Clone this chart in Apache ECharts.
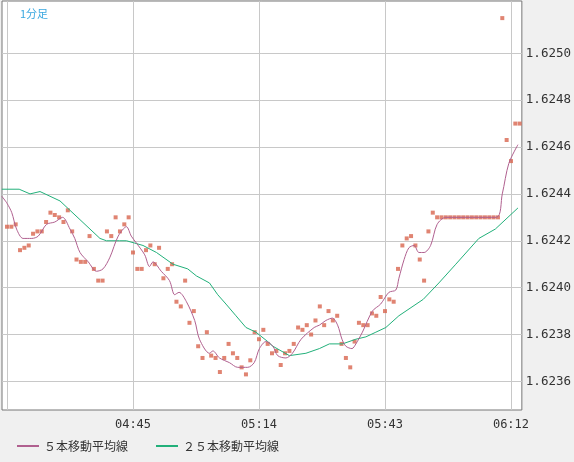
<!DOCTYPE html>
<html>
<head>
<meta charset="utf-8">
<script src="https://cdn.jsdelivr.net/npm/echarts@6/dist/echarts.min.js"></script>
<style>
html,body{margin:0;padding:0;background:#f0f0f0;}
#main{width:574px;height:462px;}
</style>
</head>
<body>
<div id="main"></div>
<script>
// minutes from 04:16, one price per minute
var prices = [
 1.62426,1.62426,1.62427,1.62416,1.62417,1.62418,1.62423,1.62424,1.62424,1.62428,
 1.62432,1.62431,1.62430,1.62428,1.62433,1.62424,1.62412,1.62411,1.62411,1.62422,
 1.62408,1.62403,1.62403,1.62424,1.62422,1.62430,1.62424,1.62427,1.62430,1.62415,
 1.62408,1.62408,1.62416,1.62418,1.62410,1.62417,1.62404,1.62408,1.62410,1.62394,
 1.62392,1.62403,1.62385,1.62390,1.62375,1.62370,1.62381,1.62371,1.62370,1.62364,
 1.62370,1.62376,1.62372,1.62370,1.62366,1.62363,1.62369,1.62381,1.62378,1.62382,
 1.62376,1.62372,1.62373,1.62367,1.62372,1.62373,1.62376,1.62383,1.62382,1.62384,
 1.62380,1.62386,1.62392,1.62384,1.62390,1.62386,1.62388,1.62376,1.62370,1.62366,
 1.62377,1.62385,1.62384,1.62384,1.62389,1.62388,1.62396,1.62390,1.62395,1.62394,
 1.62408,1.62418,1.62421,1.62422,1.62418,1.62412,1.62403,1.62424,1.62432,1.62430,
 1.62430,1.62430,1.62430,1.62430,1.62430,1.62430,1.62430,1.62430,1.62430,1.62430,
 1.62430,1.62430,1.62430,1.62430,1.62515,1.62463,1.62454,1.62470,1.62470
];

// 5本移動平均線
var ma5X = [-1.2,0,1.1,2.2,3.7,5.7,7.2,9.1,11,12.8,14.5,15.6,16.8,18.7,20.6,22.1,23.7,25.6,27.5,28.6,29.8,31.7,32.8,33.6,35.5,37.4,38.6,39.6,41.3,43.2,44.3,46.6,47.4,48.9,51.2,53.1,55.4,56.9,58.1,59.6,61.2,62.3,64.2,65.7,67.7,70.7,71.9,73.4,74.9,76.1,77.1,78,79.4,80.3,81.8,84.1,86,87.9,89.5,90.2,91.4,92.5,93.7,94.8,96,97.5,99,101,112.6,114,115.5,117.6];
var ma5Y = [1.62439,1.62436,1.62432,1.62425,1.62421,1.62421,1.62422,1.62427,1.62428,1.62430,1.62425,1.62421,1.62415,1.62411,1.62407,1.62408,1.62413,1.62422,1.62426,1.62422,1.62419,1.62414,1.62409,1.62411,1.62407,1.62403,1.62397,1.62398,1.62394,1.62386,1.62378,1.62372,1.62373,1.62370,1.62368,1.62366,1.62366,1.62368,1.62374,1.62377,1.62375,1.62371,1.62370,1.62372,1.62378,1.62383,1.62384,1.62386,1.62387,1.62384,1.62378,1.62375,1.62374,1.62376,1.62381,1.62390,1.62393,1.62398,1.62399,1.62404,1.62412,1.62417,1.62418,1.62415,1.62415,1.62418,1.62427,1.62430,1.62430,1.62440,1.62453,1.62461];

// 25本移動平均線
var ma25X = [-1.2,0,2.8,5.3,7.6,9.9,12.2,14.5,16.8,19.1,21.4,22.9,25.9,27.5,29.4,31.3,34.4,38.2,41.6,43.6,46.6,48.5,50.4,52.7,55,57.3,60,61.2,65,68.8,71.9,74.2,77.2,80.3,82.6,84.9,87.2,90.2,95.8,99.4,103.3,108.6,112.4,117.6];
var ma25Y = [1.62442,1.62442,1.62442,1.62440,1.62441,1.62439,1.62437,1.62433,1.62429,1.62425,1.62421,1.62420,1.62420,1.62420,1.62419,1.62418,1.62415,1.62410,1.62408,1.62405,1.62402,1.62397,1.62393,1.62388,1.62383,1.62381,1.62377,1.62375,1.62371,1.62372,1.62374,1.62376,1.62376,1.62378,1.62379,1.62381,1.62383,1.62388,1.62395,1.62402,1.62410,1.62421,1.62425,1.62434];

var timeTicks = [0,29,58,87,116];
var timeLabels = ['','04:45','05:14','05:43','06:12'];
var priceTicks = [1.6236,1.6238,1.6240,1.6242,1.6244,1.6246,1.6248,1.6250];

function pairs(xs,ys){
	var out=[];
	for(var i=0;i<xs.length;i++){ out.push([xs[i],ys[i]]); }
	return out;
}

var pts = [];
for(var i=0;i<prices.length;i++){ pts.push([i,prices[i]]); }

var chart = echarts.init(document.getElementById('main'));
chart.setOption({
	animation:false,
	backgroundColor:'#f0f0f0',
	title:{text:'1分足',left:15,top:3,textStyle:{color:'#3aa8e0',fontSize:11,fontWeight:'normal',fontFamily:'Noto Sans CJK JP'}},
	grid:{left:2,right:51,top:1,bottom:52,show:true,backgroundColor:'#fff',borderColor:'#777',borderWidth:1},
	legend:{
		left:12,bottom:5,itemWidth:22,itemHeight:2,itemGap:28,icon:'rect',
		textStyle:{color:'#333',fontSize:12,fontFamily:'Noto Sans CJK JP'},
		data:['５本移動平均線','２５本移動平均線']
	},
	xAxis:{
		type:'value',min:-1.15,max:118.5,
		axisLine:{show:false},
		axisTick:{show:false,customValues:timeTicks},
		splitLine:{show:true,lineStyle:{color:'#c8c8c8',width:1}},
		axisLabel:{customValues:timeTicks,color:'#333',fontSize:12,fontFamily:'DejaVu Sans Mono',margin:9,
			formatter:function(v){ var k=timeTicks.indexOf(Math.round(v)); return k>=0?timeLabels[k]:''; }}
	},
	yAxis:{
		type:'value',position:'right',min:1.623478,max:1.625223,
		axisLine:{show:false},
		axisTick:{show:false,customValues:priceTicks},
		splitLine:{show:true,lineStyle:{color:'#c8c8c8',width:1}},
		axisLabel:{customValues:priceTicks,color:'#333',fontSize:12.5,fontFamily:'DejaVu Sans Mono',margin:4,
			formatter:function(v){ return v.toFixed(4); }}
	},
	series:[
		{name:'price',type:'scatter',data:pts,symbol:'rect',symbolSize:4,itemStyle:{color:'#d8654f'},silent:true},
		{name:'２５本移動平均線',type:'line',data:pairs(ma25X,ma25Y),showSymbol:false,lineStyle:{color:'#22b07a',width:1},itemStyle:{color:'#22b07a'}},
		{name:'５本移動平均線',type:'line',data:pairs(ma5X,ma5Y),showSymbol:false,smooth:0.3,lineStyle:{color:'#b0608f',width:1},itemStyle:{color:'#b0608f'}}
	]
});
</script>
</body>
</html>
